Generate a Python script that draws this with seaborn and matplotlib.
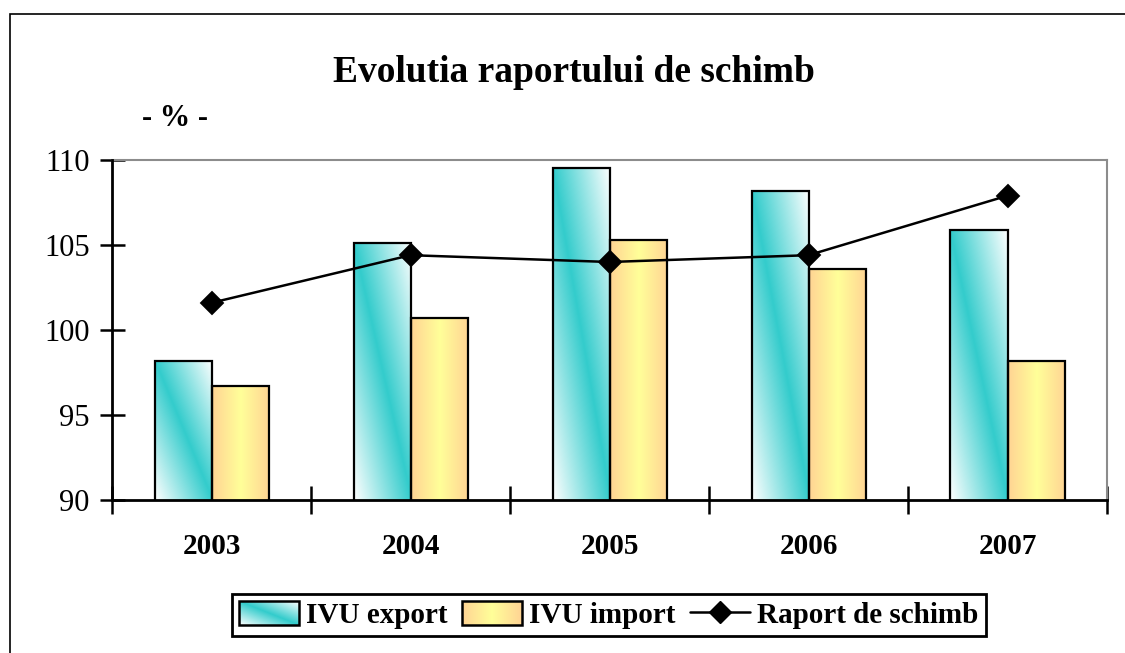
import numpy as np
import pandas as pd
import seaborn as sns
import matplotlib.pyplot as plt
from matplotlib.patches import Rectangle
from matplotlib.legend_handler import HandlerBase
from matplotlib.image import BboxImage
from matplotlib.transforms import Bbox, TransformedBbox
from matplotlib.lines import Line2D

years = ["2003", "2004", "2005", "2006", "2007"]
ivu_export = [98.2, 105.1, 109.5, 108.2, 105.9]
ivu_import = [96.7, 100.7, 105.3, 103.6, 98.2]
raport = [101.6, 104.4, 104.0, 104.4, 107.9]

TEAL = np.array([0.2, 0.8, 0.8])
WHITE = np.array([1.0, 1.0, 1.0])
PEACH = np.array([1.0, 0.83, 0.58])
YELLOW = np.array([1.0, 1.0, 0.6])


def export_gradient(n=120):
    u = np.linspace(0, 1, n)[None, :]
    v = np.linspace(1, 0, n)[:, None]  # image rows go top -> bottom
    t = 1 - np.abs(u + v - 1)
    t = np.clip(t, 0, 1)
    return WHITE * (1 - t[..., None]) + TEAL * t[..., None]


def import_gradient(n=120):
    u = np.linspace(0, 1, n)
    t = np.clip(1 - np.abs(2 * u - 1), 0, 1)
    row = PEACH * (1 - t[:, None]) + YELLOW * t[:, None]
    return np.repeat(row[None, :, :], 4, axis=0)


class GradHandler(HandlerBase):
    def __init__(self, arr):
        super().__init__()
        self.arr = arr

    def create_artists(self, legend, orig_handle, xdescent, ydescent,
                       width, height, fontsize, trans):
        bb = TransformedBbox(Bbox.from_bounds(-xdescent, -ydescent, width, height), trans)
        img = BboxImage(bb, interpolation="bilinear")
        img.set_data(self.arr)
        rect = Rectangle((-xdescent, -ydescent), width, height, fc="none",
                         ec="black", lw=1.8, transform=trans)
        return [img, rect]


df = pd.DataFrame({
    "an": years * 2,
    "val": ivu_export + ivu_import,
    "serie": ["IVU export"] * 5 + ["IVU import"] * 5,
})
df_line = pd.DataFrame({"an": years, "raport": raport})

sns.set_style("white")
plt.rcParams["font.family"] = ["Liberation Serif", "DejaVu Serif"]
plt.rcParams["text.color"] = "black"
plt.rcParams["xtick.color"] = "black"
plt.rcParams["ytick.color"] = "black"
plt.rcParams["axes.labelcolor"] = "black"

fig = plt.figure(figsize=(11.25, 6.53), dpi=100)
ax = fig.add_axes([0.0996, 0.2343, 0.8844, 0.5207])

sns.barplot(data=df, x="an", y="val", hue="serie", order=years,
            hue_order=["IVU export", "IVU import"], width=0.573,
            palette=["#33cccc", "#ffff99"], edgecolor="black", linewidth=1.6,
            legend=False, ax=ax)

ymin, ymax = 90, 110
exp_img = export_gradient()
imp_img = import_gradient()
bars = [p for p in ax.patches if isinstance(p, Rectangle)]
for i, p in enumerate(bars):
    x0, w, h = p.get_x(), p.get_width(), p.get_height()
    arr = exp_img if i < len(years) else imp_img
    ax.imshow(arr, extent=[x0, x0 + w, ymin, h], aspect="auto",
              interpolation="bilinear", zorder=p.get_zorder() - 0.1)
    p.set_facecolor("none")

sns.pointplot(data=df_line, x="an", y="raport", order=years, color="black",
              markers="D", markersize=11, linewidth=1.8, ax=ax)
for ln in ax.lines:
    ln.set_zorder(5)

ax.set_xlim(-0.5, 4.5)
ax.set_ylim(ymin, ymax)
ax.set_yticks([90, 95, 100, 105, 110])
ax.set_xticks(range(5))
ax.set_xticklabels(years, fontweight="bold", fontsize=21)
ax.set_xticks(np.arange(-0.5, 5, 1), minor=True)
ax.set_xlabel("")
ax.set_ylabel("")
ax.tick_params(axis="x", which="major", length=0, pad=24, bottom=True)
ax.tick_params(axis="x", which="minor", length=20, width=1.8, direction="inout",
               color="black", bottom=True)
ax.tick_params(axis="y", length=18, width=1.8, direction="inout", color="black",
               labelsize=22, pad=7, left=True)
for s in ["left", "bottom"]:
    ax.spines[s].set_color("black")
    ax.spines[s].set_linewidth(2)
    ax.spines[s].set_zorder(6)
for s in ["top", "right"]:
    ax.spines[s].set_color("#8c8c8c")
    ax.spines[s].set_linewidth(1.5)

fig.text(0.51, 0.889, "Evolutia raportului de schimb", ha="center", va="center",
         fontsize=27, fontweight="bold")
fig.text(0.156, 0.819, "- % -", ha="center", va="center", fontsize=22, fontweight="bold")

fig.patches.append(Rectangle((0.0089, -0.2), 1.3, 0.9786 + 0.2, transform=fig.transFigure,
                             fill=False, ec="black", lw=1.2))

h_exp = Rectangle((0, 0), 1, 1)
h_imp = Rectangle((0, 0), 1, 1, fc="yellow")
h_line = Line2D([], [], color="black", marker="D", markersize=11, linewidth=1.8)
leg = fig.legend([h_exp, h_imp, h_line], ["IVU export", "IVU import", "Raport de schimb"],
                 handler_map={h_exp: GradHandler(exp_img), h_imp: GradHandler(imp_img)},
                 loc="center", bbox_to_anchor=(0.541, 0.058), ncol=3,
                 prop={"weight": "bold", "size": 21}, frameon=True, fancybox=False,
                 edgecolor="black", handlelength=2.05, handleheight=0.85,
                 handletextpad=0.25, columnspacing=0.5, borderpad=0.25, borderaxespad=0)
leg.get_frame().set_linewidth(2)
leg.get_frame().set_alpha(None)

fig.savefig("out.png", dpi=100)
